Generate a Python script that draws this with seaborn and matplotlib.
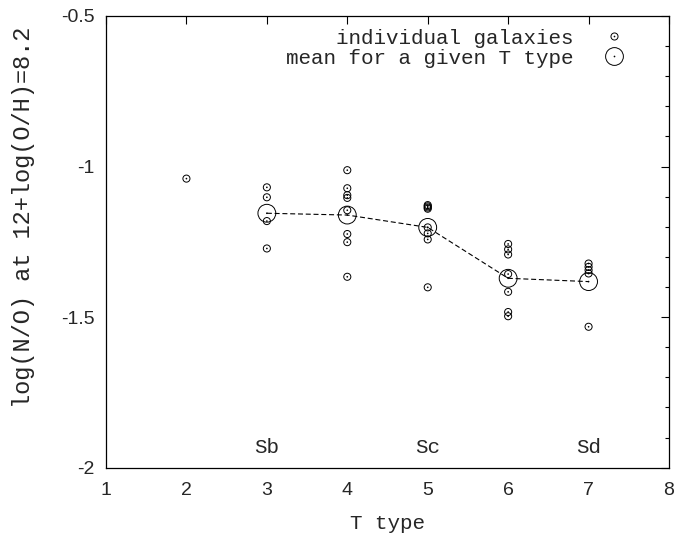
import numpy as np
import pandas as pd
import matplotlib
matplotlib.use("Agg")
import matplotlib.pyplot as plt
from matplotlib.path import Path
from matplotlib.lines import Line2D
import seaborn as sns

# ---- data ----
t_type = [2,
          3, 3, 3, 3,
          4, 4, 4, 4, 4, 4, 4, 4,
          5, 5, 5, 5, 5, 5, 5, 5,
          6, 6, 6, 6, 6, 6, 6,
          7, 7, 7, 7, 7]
log_no = [-1.040,
          -1.069, -1.102, -1.181, -1.272,
          -1.012, -1.072, -1.095, -1.104, -1.145, -1.224, -1.251, -1.366,
          -1.128, -1.132, -1.136, -1.140, -1.202, -1.222, -1.242, -1.401,
          -1.257, -1.275, -1.292, -1.357, -1.416, -1.483, -1.497,
          -1.322, -1.333, -1.344, -1.355, -1.532]
mean_t = [3, 4, 5, 6, 7]
mean_no = [-1.155, -1.161, -1.202, -1.371, -1.382]
class_x = [3, 5, 7]
class_lbl = ["Sb", "Sc", "Sd"]
x_ticks = [1, 2, 3, 4, 5, 6, 7, 8]
y_ticks = [-2, -1.5, -1, -0.5]
y_ticklabels = ["-2", "-1.5", "-1", "-0.5"]
y_minor = [-1.9, -1.8, -1.7, -1.6, -1.4, -1.3, -1.2, -1.1,
           -0.9, -0.8, -0.7, -0.6]

ind = pd.DataFrame({"T": t_type, "NO": log_no})
means = pd.DataFrame({"T": mean_t, "NO": mean_no})

sns.set_style("white")
plt.rcParams["font.family"] = ["Liberation Sans", "DejaVu Sans"]
mono = "Liberation Mono"

# circle markers with a centre dot (gnuplot style)
small_mk = Path.make_compound_path(Path.unit_circle(), Path.circle((0, 0), 0.10))
big_mk = Path.make_compound_path(Path.unit_circle(), Path.circle((0, 0), 0.04))

fig = plt.figure(figsize=(6.76, 5.34), dpi=100)
ax = fig.add_axes([106/676, 1 - 467.7/534, 563/676, 451.7/534])

sns.lineplot(data=means, x="T", y="NO", ax=ax, color="black", lw=0.8,
             dashes=False, linestyle=(0, (4.5, 2.5)), legend=False)
sns.scatterplot(data=ind, x="T", y="NO", ax=ax, marker=small_mk, s=26,
                facecolor="none", edgecolor="black", linewidth=0.7, legend=False)
sns.scatterplot(data=means, x="T", y="NO", ax=ax, marker=big_mk, s=165,
                facecolor="none", edgecolor="black", linewidth=0.7, legend=False)

for xv, lb in zip(class_x, class_lbl):
    ax.text(xv, -1.952, lb, ha="center", va="baseline", family=mono, fontsize=15)

ax.set_xlim(1, 8)
ax.set_ylim(-2, -0.5)
ax.set_xticks(x_ticks)
ax.set_xticklabels([str(v) for v in x_ticks])
ax.set_yticks(y_ticks)
ax.set_yticklabels(y_ticklabels)
ax.set_yticks(y_minor, minor=True)
ax.tick_params(which="both", direction="in", top=True, right=True,
               color="black", width=0.8)
ax.tick_params(which="major", length=5.8, labelsize=14)
ax.tick_params(axis="x", which="major", pad=10)
ax.tick_params(axis="y", which="major", pad=8)
ax.tick_params(which="minor", length=2.9)
for sp in ax.spines.values():
    sp.set_color("black")
    sp.set_linewidth(0.9)

ax.set_xlabel("T type", family=mono, fontsize=15, labelpad=11)
ax.set_ylabel("log(N/O) at 12+log(O/H)=8.2", family=mono, fontsize=17)
ax.yaxis.set_label_coords((35 - 106) / 563, (467.7 - 217) / 451.7)

h1 = Line2D([], [], ls="none", marker=small_mk, ms=5.1, mfc="none", mec="black", mew=0.7)
h2 = Line2D([], [], ls="none", marker=big_mk, ms=12.8, mfc="none", mec="black", mew=0.7)
leg = ax.legend([h1, h2], ["    individual galaxies", "mean for a given T type"],
                loc="upper right", bbox_to_anchor=(0.939, 0.972),
                markerfirst=False, frameon=False, borderpad=0, borderaxespad=0,
                handlelength=2, handletextpad=0.95, labelspacing=0.05,
                prop={"family": mono, "size": 15})

fig.savefig("out.png", dpi=100)
